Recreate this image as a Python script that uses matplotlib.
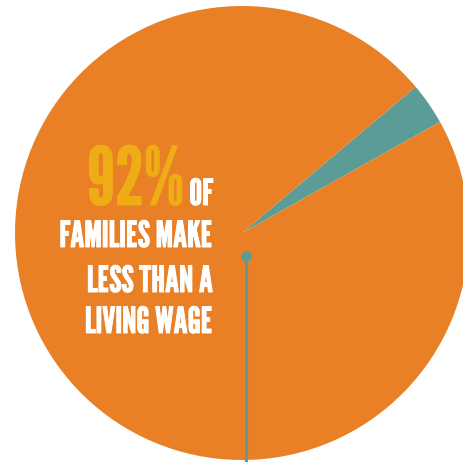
import matplotlib
matplotlib.use("Agg")
import matplotlib.pyplot as plt
import matplotlib.patheffects as pe

# slices: families below / above a living wage (wedge)
labels = ["below living wage", "above living wage"]
shares = [97, 3]
colors = ["#E98026", "#5C9C96"]

big_number = "92%"
headline = "OF"
lines = ["FAMILIES MAKE", "LESS THAN A", "LIVING WAGE"]

W, H = 463, 462
fig = plt.figure(figsize=(W / 100, H / 100), dpi=100)
ax = fig.add_axes([0, 0, 1, 1])

# pie, coordinates in pixels (y up)
cx, cy, r = 242, H - 233, 227
ax.pie(shares[::-1], colors=colors[::-1], center=(cx, cy), radius=r,
       startangle=29.3, counterclock=True, frame=True,
       wedgeprops=dict(linewidth=0, antialiased=True))
ax.set_xlim(0, W)
ax.set_ylim(0, H)
ax.axis("off")

# pin line
ax.plot([246, 246], [H - 256, 0], color="#5C9C96", lw=2.2, solid_capstyle="butt")
ax.plot(246, H - 256, "o", color="#5C9C96", ms=7.5, mec="none")

fam = ["League Gothic", "DejaVu Sans"]
bold_w = [pe.withStroke(linewidth=0.7, foreground="white")]
right = 213
of = ax.text(right, H - 205, headline, color="white", fontsize=26,
             family=fam, ha="right", va="baseline", path_effects=bold_w)
for txt, base in zip(lines, [247, 292, 333]):
    ax.text(right, H - base, txt, color="white", fontsize=26,
            family=fam, ha="right", va="baseline", path_effects=bold_w)

fig.canvas.draw()
bb = of.get_window_extent()
x0 = ax.transData.inverted().transform((bb.x0, bb.y0))[0]
ax.text(x0 - 5, H - 205, big_number, color="#F0AC14", fontsize=58,
        family=fam, ha="right", va="baseline",
        path_effects=[pe.withStroke(linewidth=0.7, foreground="#F0AC14")])

fig.savefig("out.png", dpi=100)
